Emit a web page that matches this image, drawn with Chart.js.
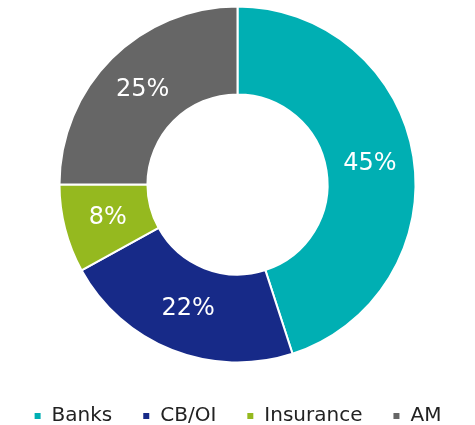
<!DOCTYPE html>
<html>
<head>
<meta charset="utf-8">
<script src="https://cdn.jsdelivr.net/npm/chart.js@4/dist/chart.umd.min.js"></script>
<style>
  html, body { margin: 0; padding: 0; background: #fff; }
  #wrap { width: 475px; height: 425px; }
</style>
</head>
<body>
<div id="wrap"><canvas id="chart"></canvas></div>
<script>
const labels = ["Banks", "CB/OI", "Insurance", "AM"];
const shares = [45, 22, 8, 25];
const colors = ["#00AFB3", "#172A88", "#95B91F", "#666666"];

// percent labels in the middle of each ring segment
const sliceLabels = {
  id: "sliceLabels",
  afterDatasetsDraw(chart) {
    const ctx = chart.ctx;
    const meta = chart.getDatasetMeta(0);
    ctx.save();
    ctx.fillStyle = "#ffffff";
    ctx.font = "24px 'DejaVu Sans'";
    ctx.textAlign = "center";
    ctx.textBaseline = "middle";
    meta.data.forEach((arc, i) => {
      const p = arc.getCenterPoint();
      ctx.fillText(shares[i] + "%", p.x, p.y);
    });
    ctx.restore();
  }
};

const chart = new Chart(document.getElementById("chart"), {
  type: "doughnut",
  data: {
    labels: labels,
    datasets: [{
      data: shares,
      backgroundColor: colors,
      borderColor: "#ffffff",
      borderWidth: 2,
      radius: 178,
      cutout: "50.6%"
    }]
  },
  options: {
    responsive: true,
    maintainAspectRatio: false,
    animation: false,
    layout: { padding: { top: 0, bottom: -11 } },
    plugins: {
      tooltip: { enabled: false },
      legend: {
        position: "bottom",
        // empty title just adds a little space above the legend row
        title: { display: true, text: "", padding: 0, font: { size: 7, lineHeight: 1 } },
        labels: {
          boxWidth: 8,
          boxHeight: 8,
          padding: 30,
          color: "#222222",
          font: { family: "'DejaVu Sans'", size: 20 }
        }
      }
    }
  },
  plugins: [sliceLabels]
});
</script>
</body>
</html>
